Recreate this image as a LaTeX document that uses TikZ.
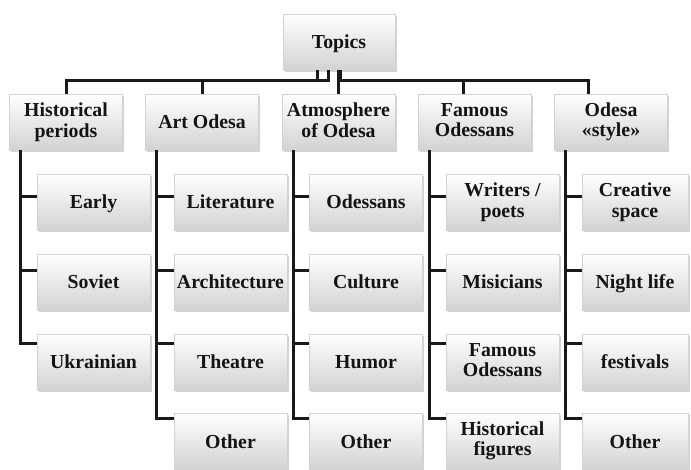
\documentclass[tikz,border=0pt]{standalone}
\usepackage{fontspec}
\setmainfont{Liberation Serif}
\usetikzlibrary{shadows}
\newcommand{\boxstrut}{\rule[-4pt]{0pt}{22pt}}
\begin{document}
\begin{tikzpicture}[x=1pt,y=-1pt,
  box/.style={draw=gray!35, line width=0.6pt, top color=white, bottom color=gray!35,
    drop shadow={shadow xshift=1.8pt, shadow yshift=-2.2pt, opacity=0.35},
    minimum width=113pt, minimum height=56pt, inner sep=0pt, align=center,
    font=\bfseries\fontsize{19.8}{20.5}\selectfont, text=black!92,
    execute at begin node=\boxstrut, execute at end node=\boxstrut},
  conn/.style={line width=3pt, draw=black!90}]
\useasboundingbox (0,0) rectangle (691,470);

% root and level 1
\node[box, minimum width=112pt] (T) at (339,42) {Topics};
\node[box] (H) at (66,122) {Historical\\periods};
\node[box] (A) at (202,122) {Art Odesa};
\node[box] (M) at (338.5,122) {Atmosphere\\of Odesa};
\node[box] (F) at (474.5,122) {Famous\\Odessans};
\node[box] (S) at (611,122) {Odesa\\«style»};

% level 2
\node[box] (H1) at (93.5,202) {Early};
\node[box] (H2) at (93.5,282) {Soviet};
\node[box] (H3) at (93.5,362) {Ukrainian};

\node[box] (A1) at (230.5,202) {Literature};
\node[box] (A2) at (230.5,282) {Architecture};
\node[box] (A3) at (230.5,362) {Theatre};
\node[box] (A4) at (230.5,441) {Other};

\node[box] (M1) at (366,202) {Odessans};
\node[box] (M2) at (366,282) {Culture};
\node[box] (M3) at (366,362) {Humor};
\node[box] (M4) at (366,441) {Other};

\node[box] (F1) at (502.5,202) {Writers /\\poets};
\node[box] (F2) at (502.5,282) {Misicians};
\node[box] (F3) at (502.5,362) {Famous\\Odessans};
\node[box] (F4) at (502.5,441) {Historical\\figures};

\node[box, minimum width=106pt] (S1) at (635,202) {Creative\\space};
\node[box, minimum width=106pt] (S2) at (635,282) {Night life};
\node[box, minimum width=106pt] (S3) at (635,362) {festivals};
\node[box, minimum width=106pt] (S4) at (635,441) {Other};

% connectors root -> level 1
\coordinate (bus) at (0,81);
\coordinate (tH) at ([xshift=-22pt]T.south);
\coordinate (tA) at ([xshift=-11pt]T.south);
\coordinate (tM) at ([xshift=-1pt]T.south);
\coordinate (tR) at ([xshift=1pt]T.south);
\coordinate (fN) at ([xshift=-11.5pt]F.north);
\coordinate (sN) at ([xshift=-23pt]S.north);
\draw[conn] (tH) -- (tH |- bus) -| (H.north);
\draw[conn] (tA) -- (tA |- bus) -| (A.north);
\draw[conn] (tM) -- (tM |- M.north);
\draw[conn] (tR) -- (tR |- bus) -| (fN);
\draw[conn] (tR) -- (tR |- bus) -| (sN);

% spines level 1 -> level 2
\coordinate (hs) at ([xshift=11.5pt]H.south west);
\coordinate (as) at ([xshift=11.5pt]A.south west);
\coordinate (ms) at ([xshift=11.5pt]M.south west);
\coordinate (fs) at ([xshift=11.5pt]F.south west);
\coordinate (ss) at ([xshift=11.5pt]S.south west);

\draw[conn] (hs) |- ([yshift=5pt]H1.west);
\draw[conn] (hs) |- ([yshift=11pt]H2.west);
\draw[conn] (hs) |- ([yshift=18pt]H3.west);

\foreach \p/\c in {as/A, ms/M, fs/F, ss/S}{
  \draw[conn] (\p) |- ([yshift=5pt]\c1.west);
  \draw[conn] (\p) |- ([yshift=11pt]\c2.west);
  \draw[conn] (\p) |- ([yshift=18pt]\c3.west);
  \draw[conn] (\p) |- ([yshift=23pt]\c4.west);
}
\end{tikzpicture}
\end{document}
